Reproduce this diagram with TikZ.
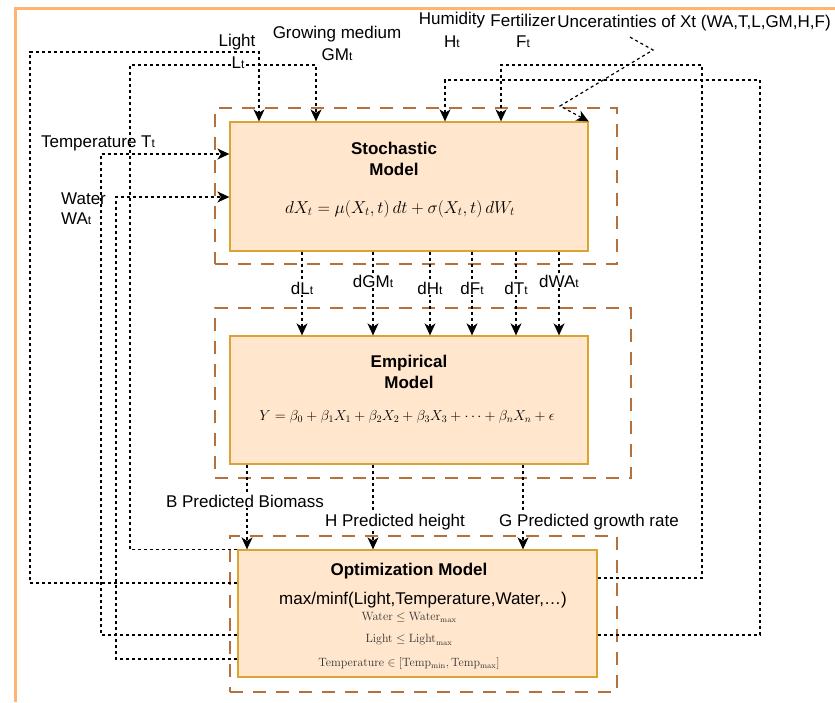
\documentclass[tikz,border=0pt]{standalone}
\usepackage{amsmath}
\usepackage[no-math]{fontspec}
\setmainfont{Liberation Sans}
\usetikzlibrary{arrows.meta}

\definecolor{boxfill}{HTML}{FFE6CC}
\definecolor{boxline}{HTML}{DBA334}
\definecolor{framecol}{HTML}{B5713D}
\definecolor{outercol}{HTML}{FFB570}

\newcommand{\st}{{\fontsize{12}{12}\selectfont t}}

\begin{document}
\begin{tikzpicture}[x=1pt, y=-1pt,
    modelbox/.style={draw=boxline, fill=boxfill, line width=1.3pt, inner sep=0pt},
    frame/.style={draw=framecol, line width=1.5pt, dash pattern=on 13pt off 10pt, inner sep=0pt},
    flow/.style={draw, line width=1.2pt, dash pattern=on 3pt off 3pt, -{Stealth[length=12pt,width=11pt,inset=3.5pt]}},
    lab/.style={font=\fontsize{17}{20}\selectfont, inner sep=1pt, align=center},
    edgelab/.style={lab, fill=white},
    title/.style={font=\fontsize{17}{21}\selectfont\bfseries, align=center},
    cons/.style={text=black!80, font=\fontsize{11.5}{13}\selectfont}
    ]
    \useasboundingbox (0,0) rectangle (835,702);
    \draw[outercol, line width=3pt] (835,8) -- (15,8) -- (15,702);

    % dashed frames and the three models
    \node[frame, minimum width=402, minimum height=156] (stoframe) at (416,186) {};
    \node[frame, minimum width=416, minimum height=170] (empframe) at (423,393) {};
    \node[frame, minimum width=387, minimum height=156] (optframe) at (423.5,614) {};
    \node[modelbox, minimum width=358, minimum height=129] (sto) at (409,186.5) {};
    \node[modelbox, minimum width=358, minimum height=128] (emp) at (409,400) {};
    \node[modelbox, minimum width=359, minimum height=127] (opt) at (417.5,613.5) {};

    \node[title] (stotitle) at (394,159) {Stochastic\\Model};
    \node[font=\fontsize{17.5}{19}\selectfont] (stoeq) at (400,209) {$dX_t = \mu(X_t,t)\,dt + \sigma(X_t,t)\,dW_t$};
    \node[title] (emptitle) at (409,371.5) {Empirical\\Model};
    \node[font=\fontsize{13.8}{15}\selectfont] (empeq) at (407,417) {$Y = \beta_0 + \beta_1 X_1 + \beta_2 X_2 + \beta_3 X_3 + \cdots + \beta_n X_n + \epsilon$};
    \node[title] (opttitle) at (409,571) {Optimization Model};
    \node[lab] (optobj) at (423,600) {max/minf(Light,Temperature,Water,\ldots)};
    \node[cons] (conwater) at (409,617) {$\mathrm{Water} \leq \mathrm{Water}_{\mathrm{max}}$};
    \node[cons] (conlight) at (409,640) {$\mathrm{Light} \leq \mathrm{Light}_{\mathrm{max}}$};
    \node[cons] (contemp) at (409,663) {$\mathrm{Temperature} \in [\mathrm{Temp}_{\mathrm{min}}, \mathrm{Temp}_{\mathrm{max}}]$};

    % inputs and feedback loops
    \draw[flow] (opt.west |- 0,583) -| (30,52) -| (sto.north -| 259,0);
    \draw[flow] (opt.north west) -| (130,65) -| (sto.north -| 316,0);
    \draw[flow] (opt.west |- 0,635) -| (101,154) -- (sto.west |- 0,154);
    \draw[flow] (opt.west |- 0,659) -| (116,197) -- (sto.west |- 0,197);
    \draw[flow] (opt.east |- 0,635) -| (760,80) -| (sto.north -| 445,0);
    \draw[flow] (opt.east |- 0,578) -| (702,65) -| (sto.north -| 501,0);

    \node[lab] (light) at (237,42) {Light};
    \node[edgelab] (lightt) at (238,63) {L\st};
    \node[lab] (gm) at (337,34) {Growing medium};
    \node[lab] (gmt) at (337,55) {GM\st};
    \node[lab] (hum) at (452,20) {Humidity};
    \node[lab] (humt) at (452,42) {H\st};
    \node[lab] (fert) at (523,20) {Fertilizer};
    \node[lab] (fertt) at (523,42) {F\st};
    \node[lab] (unc) at (694,23) {Unceratinties of Xt (WA,T,L,GM,H,F)};
    \node[lab] (temp) at (98,143) {Temperature T\st};
    \node[lab, align=left, anchor=west] (water) at (60,209) {Water\\WA\st};

    \draw[flow] ([yshift=-5pt]unc.south -| 630,0) -- (653,50) -- (560,106) -- (sto.north east);

    % stochastic -> empirical
    \foreach \x/\name/\ly in {302/dL/288, 373/dGM/281, 430/dH/288, 472/dF/288, 516/dT/288, 559/dWA/281} {
        \draw[flow] (sto.south -| \x,0) -- (emp.north -| \x,0);
        \node[edgelab] at (\x,\ly) {\name\st};
    }

    % empirical -> optimization
    \draw[flow] (emp.south -| 247,0) -- (opt.north -| 247,0);
    \draw[flow] (emp.south -| 373,0) -- (opt.north -| 373,0);
    \draw[flow] (emp.south -| 523,0) -- (opt.north -| 523,0);
    \node[edgelab] (biomass) at (245,501) {B Predicted Biomass};
    \node[edgelab] (height) at (395,522) {H Predicted height};
    \node[edgelab] (growth) at (589,522) {G Predicted growth rate};
\end{tikzpicture}
\end{document}
